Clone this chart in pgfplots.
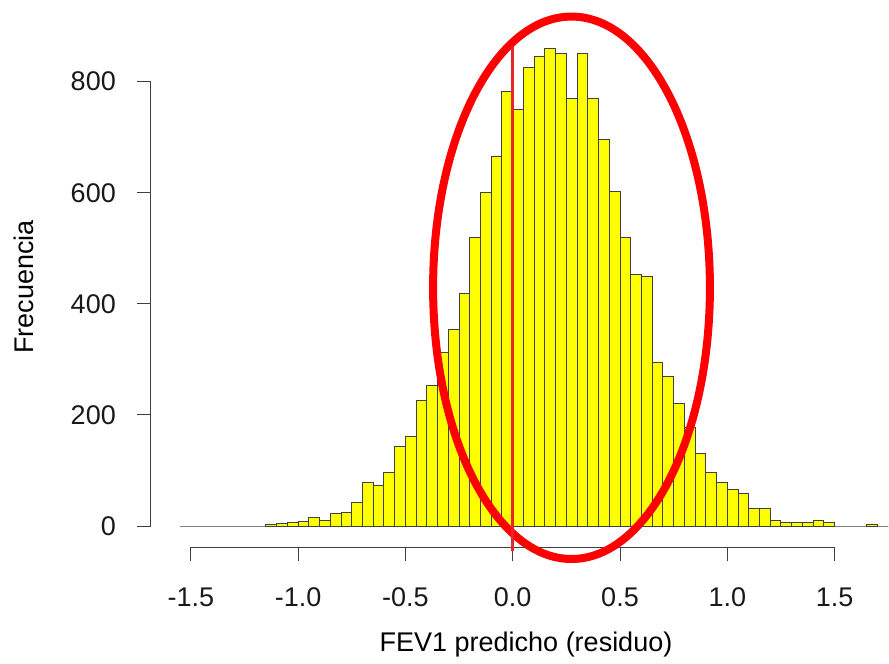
\documentclass[border=0pt]{standalone}
\usepackage{pgfplots}
\pgfplotsset{compat=1.18}
\usepackage{fontspec}
\setmainfont{Liberation Sans}
\definecolor{barfill}{RGB}{255,255,0}
\definecolor{vline}{RGB}{235,35,45}
\begin{document}
\begin{tikzpicture}
\begin{axis}[
  at={(0,0)}, anchor=south west,
  scale only axis, width=738.3pt, height=518.3pt,
  xmin=-1.687, xmax=1.7535, ymin=-38.35, ymax=894.8,
  axis line style={draw=none},
  clip=false,
  xtick={-1.5,-1,-0.5,0,0.5,1,1.5},
  xticklabels={-1.5,-1.0,-0.5,0.0,0.5,1.0,1.5},
  ytick={0,200,400,600,800},
  yticklabels={0,200,400,600,800},
  xtick pos=bottom, ytick pos=left,
  tick align=outside,
  major tick length=13.5pt,
  tick style={black!75, line width=1pt},
  ticklabel style={font=\fontsize{27}{32}\selectfont, text=black!90, inner sep=0pt},
  xticklabel style={anchor=base, yshift=-45.2pt},
  yticklabel style={anchor=east, xshift=-21.2pt},
]
\addplot[ybar interval, fill=barfill, draw=black!75, line width=1pt] coordinates {
(-1.55,0) (-1.50,0) (-1.45,0) (-1.40,0) (-1.35,0) (-1.30,0) (-1.25,0) (-1.20,0)
(-1.15,3) (-1.10,4) (-1.05,6) (-1.00,9) (-0.95,16) (-0.90,10) (-0.85,22) (-0.80,24)
(-0.75,42) (-0.70,79) (-0.65,73) (-0.60,97) (-0.55,144) (-0.50,162) (-0.45,226) (-0.40,253)
(-0.35,312) (-0.30,354) (-0.25,418) (-0.20,520) (-0.15,600) (-0.10,666) (-0.05,782)
(0.00,750) (0.05,826) (0.10,846) (0.15,860) (0.20,851) (0.25,769) (0.30,850) (0.35,770)
(0.40,696) (0.45,603) (0.50,520) (0.55,452) (0.60,449) (0.65,295) (0.70,270) (0.75,220)
(0.80,177) (0.85,130) (0.90,97) (0.95,79) (1.00,65) (1.05,58) (1.10,31) (1.15,31)
(1.20,10) (1.25,6) (1.30,6) (1.35,6) (1.40,10) (1.45,6) (1.50,0) (1.55,0) (1.60,0)
(1.65,3) (1.70,0) (1.75,0)
};
% R-style detached axis lines
\draw[black!75, line width=1pt] (axis cs:-1.5,-38.35) -- (axis cs:1.5,-38.35);
\draw[black!75, line width=1pt] (axis cs:-1.687,0) -- (axis cs:-1.687,800);
% annotations
\draw[red, line width=8pt] (axis cs:0.274,428.9) ellipse [x radius=0.645, y radius=488.3];
\draw[vline, line width=3pt] (axis cs:0,-44.5) -- (axis cs:0,863);
% axis titles
\node[anchor=base, font=\fontsize{27}{32}\selectfont] at (axis cs:0.062,-226.3) {FEV1 predicho (residuo)};
\node[anchor=base, rotate=90, font=\fontsize{27}{32}\selectfont] at (axis cs:-2.231,430) {Frecuencia};
\end{axis}
\pgfresetboundingbox
\useasboundingbox (-150.7pt,-116.7pt) rectangle (738.3pt,547.3pt);
\end{tikzpicture}
\end{document}
